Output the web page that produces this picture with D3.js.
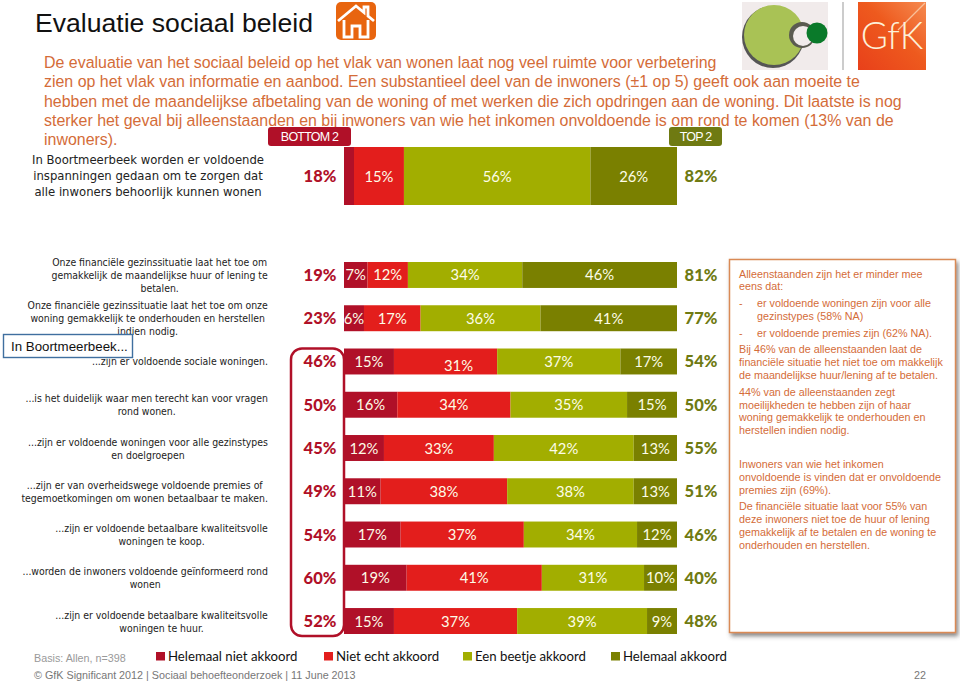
<!DOCTYPE html>
<html>
<head>
<meta charset="UTF-8">
<script src="https://cdnjs.cloudflare.com/ajax/libs/d3/7.8.5/d3.min.js"></script>
<style>
  html, body { margin: 0; padding: 0; background: #fff; }
  svg { display: block; }
</style>
</head>
<body>
<svg id="chart" width="960" height="684"></svg>
<script>
// data
const seriesNames = ["Helemaal niet akkoord", "Niet echt akkoord", "Een beetje akkoord", "Helemaal akkoord"];
const seriesKeys = ["a", "b", "c", "d"];

const headValues = [[3, 15, 56, 26]];
const headBottom = [18];
const headTop = [82];
const headLabels = [["In Boortmeerbeek worden er voldoende", "inspanningen gedaan om te zorgen dat", "alle inwoners behoorlijk kunnen wonen"]];

const rowValues = [
  [7, 12, 34, 46],
  [6, 17, 36, 41],
  [15, 31, 37, 17],
  [16, 34, 35, 15],
  [12, 33, 42, 13],
  [11, 38, 38, 13],
  [17, 37, 34, 12],
  [19, 41, 31, 10],
  [15, 37, 39, 9]
];
const rowBottom = [19, 23, 46, 50, 45, 49, 54, 60, 52];
const rowTop = [81, 77, 54, 50, 55, 51, 46, 40, 48];
const rowLabels = [
  ["Onze financiële gezinssituatie laat het toe om", "gemakkelijk de maandelijkse huur of lening te", "betalen."],
  ["Onze financiële gezinssituatie laat het toe om onze", "woning gemakkelijk te onderhouden en herstellen", "indien nodig."],
  ["...zijn er voldoende sociale woningen."],
  ["...is het duidelijk waar men terecht kan voor vragen", "rond wonen."],
  ["...zijn er voldoende woningen voor alle gezinstypes", "en doelgroepen"],
  ["...zijn er van overheidswege voldoende premies of", "tegemoetkomingen om wonen betaalbaar te maken."],
  ["...zijn er voldoende betaalbare kwaliteitsvolle", "woningen te koop."],
  ["...worden de inwoners voldoende geïnformeerd rond", "wonen"],
  ["...zijn er voldoende betaalbare kwaliteitsvolle", "woningen te huur."]
];

const introLines = [
  "De evaluatie van het sociaal beleid op het vlak van wonen laat nog veel ruimte voor verbetering",
  "zien op het vlak van informatie en aanbod. Een substantieel deel van de inwoners (±1 op 5) geeft ook aan moeite te",
  "hebben met de maandelijkse afbetaling van de woning of met werken die zich opdringen aan de woning. Dit laatste is nog",
  "sterker het geval bij alleenstaanden en bij inwoners van wie het inkomen onvoldoende is om rond te komen (13% van de",
  "inwoners)."
];

const noteLines = [
  ["Alleenstaanden zijn het er minder mee", 0, 278],
  ["eens dat:", 0, 290],
  ["-", 0, 307],
  ["er voldoende woningen zijn voor alle", 18, 307],
  ["gezinstypes (58% NA)", 18, 320],
  ["-", 0, 337],
  ["er voldoende premies zijn (62% NA).", 18, 337],
  ["Bij 46% van de alleenstaanden laat de", 0, 353],
  ["financiële situatie het niet toe om makkelijk", 0, 366],
  ["de maandelijkse huur/lening af te betalen.", 0, 379],
  ["44% van de alleenstaanden zegt", 0, 396],
  ["moeilijkheden te hebben zijn of haar", 0, 409],
  ["woning gemakkelijk te onderhouden en", 0, 421],
  ["herstellen indien nodig.", 0, 434],
  ["Inwoners van wie het inkomen", 0, 468],
  ["onvoldoende is vinden dat er onvoldoende", 0, 481],
  ["premies zijn (69%).", 0, 494],
  ["De financiële situatie laat voor 55% van", 0, 510],
  ["deze inwoners niet toe de huur of lening", 0, 523],
  ["gemakkelijk af te betalen en de woning te", 0, 536],
  ["onderhouden en herstellen.", 0, 549]
];

const barColors = ["#b01028", "#e31e1c", "#a2ae00", "#7a8000"];
const bottomColor = "#b01028";
const topColor = "#6f7a12";
const orange = "#d46c38";
const ARIAL = "'Liberation Sans', Arial, sans-serif";
const CALIBRI = "Lato, sans-serif";
const LABELFONT = "'DejaVu Sans Condensed', 'DejaVu Sans', sans-serif";

const svg = d3.select("#chart");
const x = d3.scaleLinear().domain([0, 1]).range([344, 677]);
const color = d3.scaleOrdinal().domain(seriesKeys).range(barColors);

const defs = svg.append("defs");
const shadow = defs.append("filter").attr("id", "shadow").attr("x", "-5%").attr("y", "-5%").attr("width", "112%").attr("height", "112%");
shadow.append("feDropShadow").attr("dx", 2).attr("dy", 3).attr("stdDeviation", 2).attr("flood-color", "#555").attr("flood-opacity", 0.7);
const gfkGrad = defs.append("linearGradient").attr("id", "gfk").attr("x1", 0).attr("y1", 1).attr("x2", 1).attr("y2", 0);
gfkGrad.append("stop").attr("offset", "0%").attr("stop-color", "#e8401a");
gfkGrad.append("stop").attr("offset", "55%").attr("stop-color", "#ee5a1e");
gfkGrad.append("stop").attr("offset", "100%").attr("stop-color", "#f58a50");

// title + icon
svg.append("text").attr("x", 35).attr("y", 32).attr("font-family", ARIAL).attr("font-size", 26.6).attr("fill", "#111").text("Evaluatie sociaal beleid");
const house = svg.append("g").attr("transform", "translate(336,2)");
house.append("rect").attr("width", 40).attr("height", 38).attr("rx", 5).attr("fill", "#e8650f");
house.append("path").attr("d", "M2 19 L20 4 L28 10.5 V5 H32 V14 L38 19").attr("fill", "none").attr("stroke", "#fff").attr("stroke-width", 2.8);
house.append("path").attr("d", "M8 18 V35 H16 V24 H24 V35 H32 V18").attr("fill", "none").attr("stroke", "#fff").attr("stroke-width", 2.8);

// logos
const logo = svg.append("g");
logo.append("rect").attr("x", 742).attr("y", 2).attr("width", 86).attr("height", 68).attr("fill", "#f1ebeb");
logo.append("circle").attr("cx", 773).attr("cy", 37).attr("r", 31).attr("fill", "#555");
logo.append("circle").attr("cx", 774).attr("cy", 35).attr("r", 30).attr("fill", "#a9c255");
logo.append("circle").attr("cx", 802).attr("cy", 35).attr("r", 13).attr("fill", "#5a5a50");
logo.append("circle").attr("cx", 803).attr("cy", 36).attr("r", 10).attr("fill", "#f1ebeb");
logo.append("circle").attr("cx", 817).attr("cy", 33).attr("r", 10.5).attr("fill", "#0a7a2a");
logo.append("line").attr("x1", 843).attr("x2", 843).attr("y1", 2).attr("y2", 70).attr("stroke", "#bbb").attr("stroke-width", 1.5);
logo.append("rect").attr("x", 858).attr("y", 2).attr("width", 68).attr("height", 68).attr("fill", "url(#gfk)");
logo.append("line").attr("x1", 925).attr("y1", 3).attr("x2", 898).attr("y2", 30).attr("stroke", "#f9c09a").attr("stroke-width", 1.2);
logo.append("text").attr("x", 892).attr("y", 49).attr("text-anchor", "middle").attr("font-family", "Lato, sans-serif").attr("font-size", 37).attr("font-weight", 300).attr("fill", "#fdf0d8").text("GfK");

// intro text
svg.append("g").selectAll("text").data(introLines).join("text")
  .attr("x", 44)
  .attr("y", (d, i) => 68 + i * 19.25)
  .attr("font-family", ARIAL).attr("font-size", 15.95).attr("fill", orange)
  .text(d => d);

// one block of stacked bars with its totals and labels
function drawBlock(values, bottoms, tops, labels, y, fontSize, lineH, rightEdge) {
  const rows = values.map(v => ({ a: v[0], b: v[1], c: v[2], d: v[3] }));
  const stacked = d3.stack().keys(seriesKeys).offset(d3.stackOffsetExpand)(rows);
  const block = svg.append("g");

  const layer = block.selectAll("g.layer").data(stacked).join("g").attr("class", "layer");
  layer.selectAll("rect").data(d => d.map((p, i) => ({ p, i }))).join("rect")
    .attr("x", d => x(d.p[0]))
    .attr("y", d => y(d.i))
    .attr("width", d => x(d.p[1]) - x(d.p[0]))
    .attr("height", y.bandwidth())
    .attr("fill", function () { return color(d3.select(this.parentNode).datum().key); });

  // the 3% segment has no label in the original
  layer.selectAll("text").data(d => d.map((p, i) => ({ p, i, key: d.key })).filter(e => e.p.data[e.key] > 3)).join("text")
    .attr("x", d => (x(d.p[0]) + x(d.p[1])) / 2)
    .attr("y", d => y(d.i) + y.bandwidth() / 2 + 5.5)
    .attr("text-anchor", "middle")
    .attr("font-family", CALIBRI).attr("font-size", 14.8).attr("fill", "#fdfde8")
    .text(d => d.p.data[d.key] + "%");

  block.append("g").selectAll("text").data(bottoms).join("text")
    .attr("x", 320).attr("y", (d, i) => y(i) + y.bandwidth() / 2 + 6)
    .attr("text-anchor", "middle")
    .attr("font-family", CALIBRI).attr("font-size", 16.5).attr("font-weight", 900).attr("fill", bottomColor)
    .text(d => d + "%");

  block.append("g").selectAll("text").data(tops).join("text")
    .attr("x", 701).attr("y", (d, i) => y(i) + y.bandwidth() / 2 + 6)
    .attr("text-anchor", "middle")
    .attr("font-family", CALIBRI).attr("font-size", 16.5).attr("font-weight", 900).attr("fill", topColor)
    .text(d => d + "%");

  // centred lines, block pushed against the right edge
  labels.forEach((lines, i) => {
    const t = block.append("text").attr("text-anchor", "middle")
      .attr("font-family", LABELFONT).attr("font-size", fontSize).attr("fill", "#222");
    lines.forEach((line, k) => {
      t.append("tspan").attr("x", 0)
        .attr("y", y(i) + y.bandwidth() / 2 + 4 + (k - (lines.length - 1) / 2) * lineH)
        .text(line);
    });
    const box = t.node().getBBox();
    t.attr("transform", `translate(${rightEdge - box.x - box.width},0)`);
  });
  return block;
}

const yHead = d3.scaleBand().domain(d3.range(headValues.length)).range([147, 205]);
const yRows = d3.scaleBand().domain(d3.range(rowValues.length)).range([262, 634]).paddingInner(0.4).paddingOuter(0);

drawBlock(headValues, headBottom, headTop, headLabels, yHead, 12.95, 16, 264);
const mainBlock = drawBlock(rowValues, rowBottom, rowTop, rowLabels, yRows, 10.4, 13, 268);

// the 31% label sits off-centre in the original
mainBlock.selectAll("g.layer text").filter(d => d.i === 2 && d.key === "b")
  .attr("x", 458.5).attr("y", yRows(2) + yRows.bandwidth() / 2 + 9.5);

// highlight around the "In Boortmeerbeek" rows
svg.append("rect")
  .attr("x", 291).attr("y", yRows(2))
  .attr("width", 53).attr("height", 636 - yRows(2))
  .attr("rx", 11).attr("fill", "none").attr("stroke", bottomColor).attr("stroke-width", 2.5);

// badges
function badge(xPos, w, fill, label) {
  svg.append("rect").attr("x", xPos).attr("y", 127).attr("width", w).attr("height", 19).attr("rx", 3).attr("fill", fill);
  svg.append("text").attr("x", xPos + w / 2).attr("y", 141).attr("text-anchor", "middle")
    .attr("font-family", ARIAL).attr("font-size", 12.5).attr("letter-spacing", -0.8).attr("fill", "#fff").text(label);
}
badge(268, 83, bottomColor, "BOTTOM 2");
badge(669, 53, topColor, "TOP 2");

// In Boortmeerbeek box
svg.append("rect").attr("x", 3.5).attr("y", 334.5).attr("width", 129).attr("height", 23).attr("fill", "#fff").attr("stroke", "#3f6f9f").attr("stroke-width", 1.4);
svg.append("text").attr("x", 11).attr("y", 351).attr("font-family", ARIAL).attr("font-size", 13.3).attr("fill", "#111").text("In Boortmeerbeek...");

// note box
svg.append("rect").attr("x", 729.5).attr("y", 259.5).attr("width", 226).attr("height", 373).attr("fill", "#fff").attr("stroke", "#d98a55").attr("stroke-width", 1.5).attr("filter", "url(#shadow)");
svg.append("g").selectAll("text").data(noteLines).join("text")
  .attr("x", d => 739 + d[1]).attr("y", d => d[2])
  .attr("font-family", ARIAL).attr("font-size", 10.75).attr("fill", orange)
  .text(d => d[0]);

// legend
const legendSquares = [156, 324, 463, 611];
const legend = svg.append("g").selectAll("g").data(seriesNames).join("g")
  .attr("transform", (d, i) => `translate(${legendSquares[i]},652)`);
legend.append("rect").attr("width", 9).attr("height", 8.5).attr("fill", (d, i) => barColors[i]);
legend.append("text").attr("x", 12).attr("y", 8.5).attr("font-family", CALIBRI).attr("font-size", 13.2).attr("fill", "#111").text(d => d);

// footer
svg.append("text").attr("x", 34).attr("y", 662).attr("font-family", ARIAL).attr("font-size", 10.75).attr("fill", "#999").text("Basis: Allen, n=398");
svg.append("text").attr("x", 34).attr("y", 679).attr("font-family", ARIAL).attr("font-size", 10.77).attr("fill", "#777").text("© GfK Significant 2012 | Sociaal behoefteonderzoek | 11 June 2013");
svg.append("text").attr("x", 914).attr("y", 679).attr("font-family", ARIAL).attr("font-size", 10.77).attr("fill", "#777").text("22");
</script>
</body>
</html>
